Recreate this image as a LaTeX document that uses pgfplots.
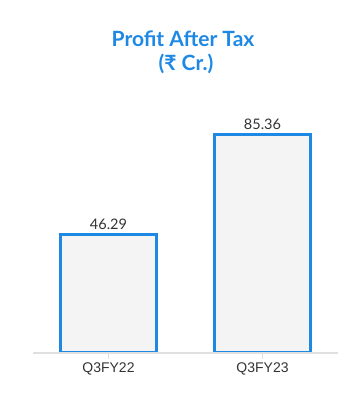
\documentclass[border=0pt]{standalone}
\usepackage{fontspec}
\setmainfont{Lato}
\newfontfamily\arialf{Liberation Sans}
\usepackage{pgfplots}
\pgfplotsset{compat=1.18}
\definecolor{barblue}{RGB}{30,136,229}
\definecolor{barfill}{RGB}{244,244,244}
\definecolor{axisgray}{RGB}{224,224,224}
\definecolor{labelgray}{RGB}{51,51,51}
\begin{document}
\begin{tikzpicture}[x=1pt,y=1pt]
\useasboundingbox (0,0) rectangle (352,406);
\begin{axis}[
  at={(33pt,53pt)}, anchor=south west,
  scale only axis, width=305pt, height=253pt,
  xmin=-0.49, xmax=1.49, ymin=0, ymax=98.8,
  axis x line=bottom, axis y line=none,
  x axis line style={-, draw=axisgray, line width=1.8pt},
  xtick={0,1}, xticklabels={Q3FY22,Q3FY23},
  ytick=\empty,
  tick align=outside, major tick length=6pt,
  x tick style={draw=axisgray, line width=1pt},
  x tick label style={font=\arialf\fontsize{14}{16}\selectfont, text=labelgray},
  axis on top,
  nodes near coords,
  nodes near coords style={font=\fontsize{14.5}{16}\selectfont, text=labelgray, /pgf/number format/fixed, /pgf/number format/precision=2, /pgf/number format/fixed zerofill, /pgf/number format/assume math mode=true},
]
\addplot[ybar, bar width=0.623, fill=barfill, draw=barblue, line width=3pt] coordinates {(0,46.29) (1,85.36)};
\end{axis}
\node[font=\bfseries\fontsize{21}{23}\selectfont, text=barblue] at (183,367) {Profit After Tax};
\node[font=\bfseries\fontsize{21}{23}\selectfont, text=barblue] at (186,342) {(₹ Cr.)};
\end{tikzpicture}
\end{document}
